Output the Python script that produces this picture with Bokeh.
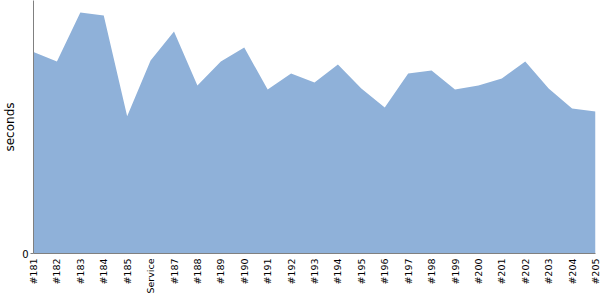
import math
from bokeh.plotting import figure
from bokeh.models import Range1d, FixedTicker
from bokeh.embed import file_html
from bokeh.resources import INLINE

categories = ["#181", "#182", "#183", "#184", "#185", "Service", "#187", "#188",
              "#189", "#190", "#191", "#192", "#193", "#194", "#195", "#196",
              "#197", "#198", "#199", "#200", "#201", "#202", "#203", "#204", "#205"]
seconds = [796, 759, 953, 941, 542, 763, 877, 664, 759, 814, 648, 711, 676,
           747, 652, 577, 711, 723, 648, 664, 692, 759, 652, 573, 561]

xs = list(range(len(categories)))

p = figure(width=600, height=300, output_backend="svg", toolbar_location=None,
           x_range=Range1d(0, len(categories) - 1), y_range=Range1d(0, 1000))
p.min_border_left = 33
p.min_border_right = 5
p.min_border_top = 0
p.min_border_bottom = 47
p.outline_line_color = None
p.xgrid.visible = False
p.ygrid.visible = False

p.varea(x=xs, y1=0, y2=seconds, fill_color="#8fb1d9", fill_alpha=1.0)

ax = p.xaxis[0]
ax.ticker = FixedTicker(ticks=xs)
ax.major_label_overrides = {i: c for i, c in zip(xs, categories)}
ax.major_label_orientation = math.pi / 2
ax.major_tick_out = 0
ax.major_tick_in = 0
ax.minor_tick_out = 0
ax.minor_tick_in = 0
ax.major_label_standoff = 5
ax.major_label_text_font = "DejaVu Sans"
ax.major_label_text_font_size = "9.5px"
ax.major_label_text_color = "#000000"
ax.axis_line_color = "#808080"

ay = p.yaxis[0]
ay.ticker = FixedTicker(ticks=[0])
ay.major_tick_out = 3
ay.major_tick_in = 0
ay.minor_tick_out = 0
ay.minor_tick_in = 0
ay.major_tick_line_color = "#808080"
ay.major_label_standoff = 2
ay.major_label_text_font = "DejaVu Sans"
ay.major_label_text_font_size = "10px"
ay.major_label_text_color = "#000000"
ay.axis_line_color = "#808080"
ay.axis_label = "seconds"
ay.axis_label_text_font = "DejaVu Sans"
ay.axis_label_text_font_size = "12px"
ay.axis_label_text_font_style = "normal"
ay.axis_label_text_color = "#000000"
ay.axis_label_standoff = 2

open("out.html", "w").write(file_html(p, INLINE))
